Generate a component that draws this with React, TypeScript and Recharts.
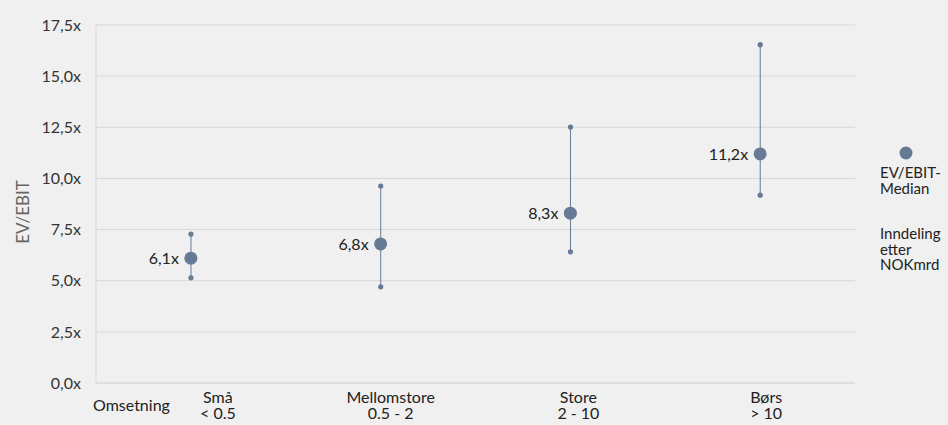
import React from 'react';
import {
  ComposedChart,
  Bar,
  Line,
  XAxis,
  YAxis,
  CartesianGrid,
  LabelList,
} from 'recharts';

// Selskapsgrupper etter omsetning (NOKmrd)
const groups = ['Små', 'Mellomstore', 'Store', 'Børs'];
const ranges = ['< 0.5', '0.5 - 2', '2 - 10', '> 10'];

// EV/EBIT: median og spenn (lav/høy)
const medians = [6.1, 6.8, 8.3, 11.2];
const lows = [5.14, 4.7, 6.41, 9.18];
const highs = [7.28, 9.63, 12.51, 16.54];

const yTicks = [0, 2.5, 5, 7.5, 10, 12.5, 15, 17.5];

const MARK = '#667b93';
const FONT = 'Lato, "Open Sans", sans-serif';
// kategoritekstene står litt til høyre for punktene
const TICK_DX = [27, 10, 8, 6];

const data = groups.map((g, i) => ({
  name: g,
  range: ranges[i],
  median: medians[i],
  span: [lows[i], highs[i]],
}));

const fmt = (v: number) => v.toFixed(1).replace('.', ',') + 'x';

// vertikal linje med små prikker i hver ende
const SpanShape = (props: any) => {
  const { x, y, width, height } = props;
  const cx = x + width / 2;
  return (
    <g>
      <line x1={cx} x2={cx} y1={y} y2={y + height} stroke={MARK} strokeWidth={1} />
      <circle cx={cx} cy={y} r={2.6} fill={MARK} />
      <circle cx={cx} cy={y + height} r={2.6} fill={MARK} />
    </g>
  );
};

const CategoryTick = (props: any) => {
  const { x, y, payload, index } = props;
  const tx = x + (TICK_DX[index] ?? 0);
  return (
    <text x={tx} y={y} textAnchor="middle" fill="#222" fontSize={16} fontFamily={FONT}>
      <tspan x={tx} dy={18}>{payload.value}</tspan>
      <tspan x={tx} dy={16}>{data[index]?.range}</tspan>
    </text>
  );
};

const LegendBox = () => (
  <div
    style={{
      position: 'absolute',
      left: 880,
      top: 146,
      fontFamily: FONT,
      fontSize: 15,
      color: '#222',
      lineHeight: '15.5px',
    }}
  >
    <svg width={14} height={14} style={{ display: 'block', marginLeft: 19 }}>
      <circle cx={7} cy={7} r={6.5} fill={MARK} />
    </svg>
    <div style={{ marginTop: 5 }}>EV/EBIT-</div>
    <div>Median</div>
    <div style={{ marginTop: 30 }}>Inndeling</div>
    <div>etter</div>
    <div>NOKmrd</div>
  </div>
);

export default function App() {
  return (
    <div
      style={{
        position: 'absolute',
        left: 0,
        top: 0,
        width: 948,
        height: 425,
        background: '#f0f0f0',
      }}
    >
      <ComposedChart
        width={948}
        height={425}
        data={data}
        margin={{ top: 25, right: 93, bottom: 0, left: 0 }}
        style={{ fontFamily: FONT }}
      >
        <CartesianGrid vertical={false} stroke="#d8d8d8" strokeWidth={1} />
        <XAxis
          dataKey="name"
          height={42}
          axisLine={{ stroke: '#d8d8d8' }}
          tickLine={false}
          tickSize={0}
          tick={<CategoryTick />}
          label={{
            content: (p: any) => (
              <text
                x={p.viewBox.x - 3}
                y={p.viewBox.y + 28}
                fill="#222"
                fontSize={16}
                fontFamily={FONT}
              >
                Omsetning
              </text>
            ),
          }}
        />
        <YAxis
          width={96}
          domain={[0, 17.5]}
          ticks={yTicks}
          tickFormatter={fmt}
          axisLine={{ stroke: '#d8d8d8' }}
          tickLine={false}
          tickSize={0}
          tickMargin={15}
          tick={{ fill: '#333', fontSize: 16, fontFamily: FONT }}
          label={{
            content: (p: any) => {
              const cx = 23;
              const cy = p.viewBox.y + p.viewBox.height / 2 + 8;
              return (
                <text
                  x={cx}
                  y={cy}
                  dy={6}
                  transform={`rotate(-90 ${cx} ${cy})`}
                  textAnchor="middle"
                  fill="#666"
                  fontSize={17}
                  fontFamily={FONT}
                >
                  EV/EBIT
                </text>
              );
            },
          }}
        />
        <Bar dataKey="span" shape={<SpanShape />} isAnimationActive={false} />
        <Line
          dataKey="median"
          stroke="none"
          dot={{ r: 6.5, fill: MARK, stroke: 'none' }}
          activeDot={false}
          isAnimationActive={false}
        >
          <LabelList
            dataKey="median"
            position="left"
            offset={12}
            formatter={(v: any) => fmt(Number(v))}
            style={{ fill: '#222', fontSize: 16, fontFamily: FONT }}
          />
        </Line>
      </ComposedChart>
      <LegendBox />
    </div>
  );
}
